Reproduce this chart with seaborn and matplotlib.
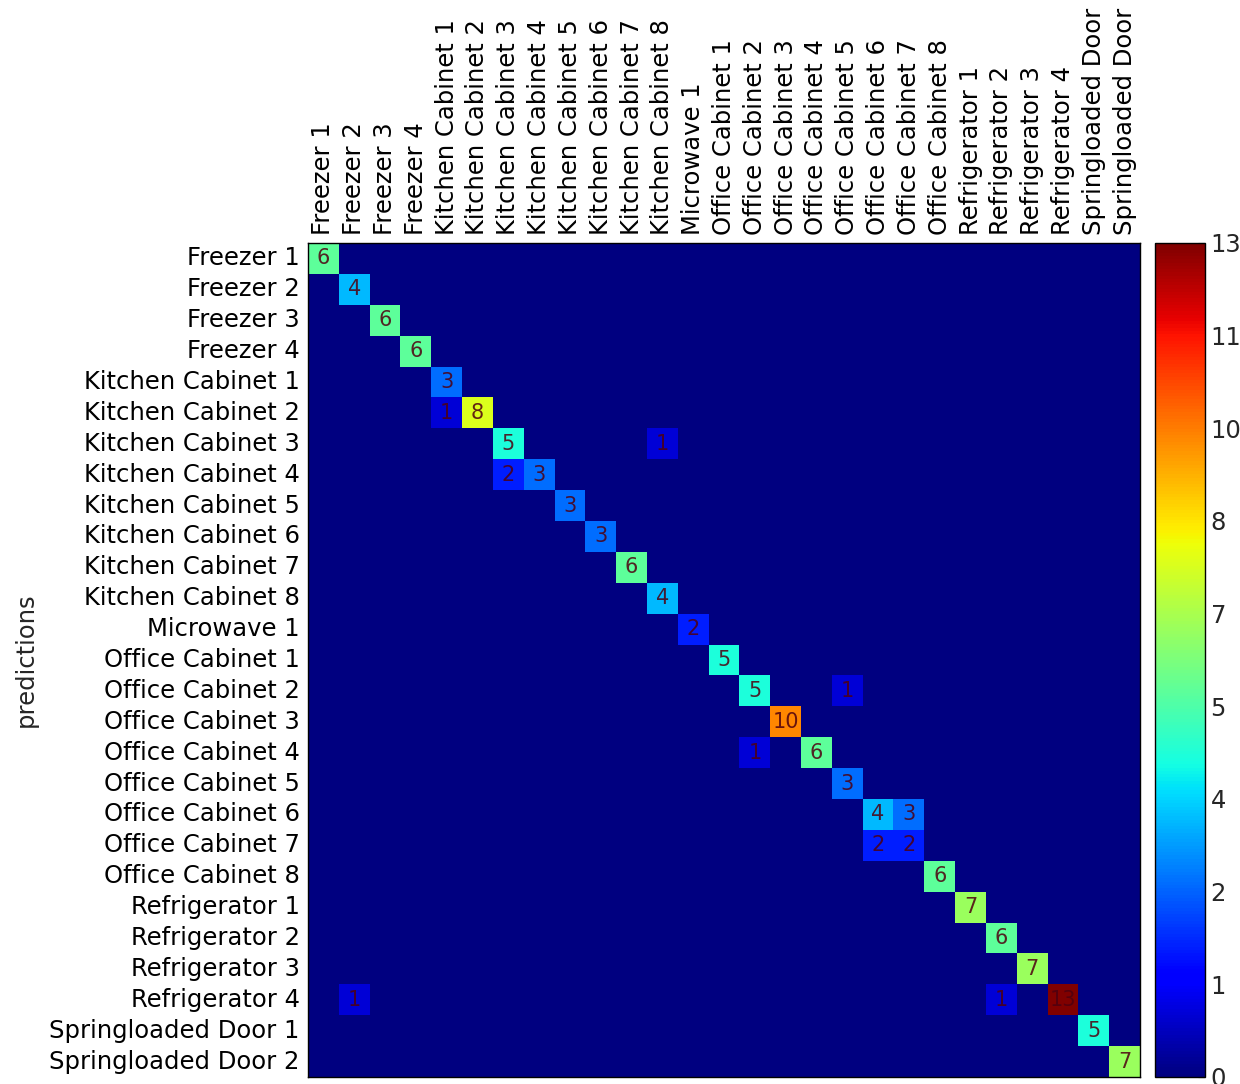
import numpy as np
import pandas as pd
import matplotlib
matplotlib.use("Agg")
import matplotlib.pyplot as plt
import seaborn as sns

labels = ["Freezer 1", "Freezer 2", "Freezer 3", "Freezer 4",
          "Kitchen Cabinet 1", "Kitchen Cabinet 2", "Kitchen Cabinet 3", "Kitchen Cabinet 4",
          "Kitchen Cabinet 5", "Kitchen Cabinet 6", "Kitchen Cabinet 7", "Kitchen Cabinet 8",
          "Microwave 1",
          "Office Cabinet 1", "Office Cabinet 2", "Office Cabinet 3", "Office Cabinet 4",
          "Office Cabinet 5", "Office Cabinet 6", "Office Cabinet 7", "Office Cabinet 8",
          "Refrigerator 1", "Refrigerator 2", "Refrigerator 3", "Refrigerator 4",
          "Springloaded Door 1", "Springloaded Door 2"]

# non-zero cells: (prediction row, column, count)
entry_rows = [0, 1, 2, 3, 4, 5, 5, 6, 6, 7, 7, 8, 9, 10, 11, 12, 13, 14, 14, 15,
              16, 16, 17, 18, 18, 19, 19, 20, 21, 22, 23, 24, 24, 24, 25, 26]
entry_cols = [0, 1, 2, 3, 4, 4, 5, 6, 11, 6, 7, 8, 9, 10, 11, 12, 13, 14, 17, 15,
              14, 16, 17, 18, 19, 18, 19, 20, 21, 22, 23, 1, 22, 24, 25, 26]
entry_vals = [6, 4, 6, 6, 3, 1, 8, 5, 1, 2, 3, 3, 3, 6, 4, 2, 5, 5, 1, 10,
              1, 6, 3, 4, 3, 2, 2, 6, 7, 6, 7, 1, 1, 13, 5, 7]

n = len(labels)
mat = np.zeros((n, n), dtype=int)
for r, c, v in zip(entry_rows, entry_cols, entry_vals):
    mat[r, c] = v
df = pd.DataFrame(mat, index=labels, columns=labels)
annot = np.where(mat > 0, mat.astype(str), "")

sns.set_style("white")
plt.rcParams['font.family'] = ['DejaVu Sans']

fig = plt.figure(figsize=(12.4, 10.84), dpi=100)
ax = fig.add_axes([308 / 1240, 1 - 1077 / 1084, 832 / 1240, 834 / 1084])
cax = fig.add_axes([1155 / 1240, 1 - 1077 / 1084, 50 / 1240, 834 / 1084])

sns.heatmap(df, ax=ax, cbar_ax=cax, cmap="jet", vmin=0, vmax=13,
            annot=annot, fmt="", square=False,
            annot_kws={"fontsize": 15, "color": "#4e0010", "alpha": 0.85},
            xticklabels=labels, yticklabels=labels)

for s in ax.spines.values():
    s.set_visible(True)
    s.set_color("black")
    s.set_linewidth(1.0)

ax.xaxis.tick_top()
ax.tick_params(axis="both", which="major", direction="in", length=5, width=0.8,
               top=True, bottom=True, left=True, right=True,
               labeltop=True, labelbottom=False, labelleft=True, labelright=False,
               labelsize=17.5, colors="black", pad=6)
plt.setp(ax.get_xticklabels(), rotation=90, ha="center", va="bottom")
plt.setp(ax.get_yticklabels(), rotation=0)
ax.set_xlabel("")
ax.set_ylabel("predictions", fontsize=17.5, labelpad=8)

cb = ax.collections[0].colorbar
cb.outline.set_linewidth(1.0)
cb.outline.set_edgecolor("black")
ticks = np.linspace(0, 13, 10)
cb.set_ticks(ticks)
cb.set_ticklabels(["%d" % t for t in ticks])
cax.tick_params(direction="in", length=5, width=0.8, labelsize=17.5, pad=4)

fig.savefig("out.png", dpi=100)
